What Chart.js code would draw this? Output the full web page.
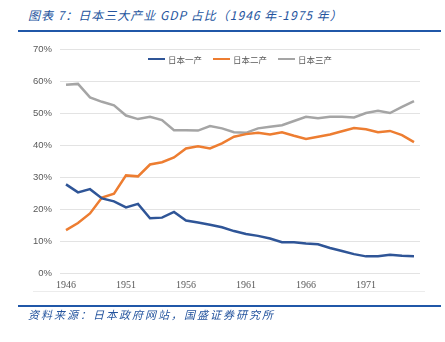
<!DOCTYPE html>
<html lang="zh">
<head>
  <meta charset="UTF-8">
  <title>日本三大产业 GDP 占比</title>
  <script src="https://cdn.jsdelivr.net/npm/chart.js"></script>
  <style>
    body {
      margin: 0;
      padding: 0;
      width: 445px;
      height: 342px;
      position: relative;
      background: #fff;
      overflow: hidden;
      font-family: "Noto Sans CJK SC", sans-serif;
    }
    #title {
      position: absolute;
      left: 28px;
      top: 6px;
      font-size: 12px;
      letter-spacing: 1px;
      font-style: italic;
      color: #24549e;
      white-space: nowrap;
    }
    .rule {
      position: absolute;
      left: 18px;
      width: 423px;
      height: 2px;
      background: #2057a8;
    }
    #source {
      position: absolute;
      left: 28px;
      top: 306px;
      font-size: 11px;
      letter-spacing: 2px;
      font-style: italic;
      color: #24549e;
      white-space: nowrap;
    }
    #legend {
      position: absolute;
      top: 53px;
      left: 148px;
      display: flex;
      font-size: 8.5px;
      color: #595959;
    }
    .item { display: flex; align-items: center; margin-right: 11px; }
    .swatch { width: 17px; height: 2.5px; margin-right: 3px; }
    #frame {
      position: absolute;
      left: 33px;
      width: 392px;
      top: 291px;
      height: 1px;
      background: #ececec;
    }
    canvas { position: absolute; left: 0; top: 0; }
  </style>
</head>
<body>
  <div id="title">图表 7：日本三大产业 GDP 占比（1946 年-1975 年）</div>
  <div class="rule" style="top:30px"></div>
  <canvas id="chart" width="445" height="342"></canvas>
  <div id="legend"></div>
  <div id="frame"></div>
  <div class="rule" style="top:305px"></div>
  <div id="source">资料来源：日本政府网站，国盛证券研究所</div>

  <script>
    // years 1946-1975
    const years = ['1946','1947','1948','1949','1950','1951','1952','1953','1954','1955',
                   '1956','1957','1958','1959','1960','1961','1962','1963','1964','1965',
                   '1966','1967','1968','1969','1970','1971','1972','1973','1974','1975'];
    const seriesNames = ['日本一产', '日本二产', '日本三产'];
    const seriesColors = ['#2f5597', '#ed7d31', '#a5a5a5'];

    // share of GDP, %
    const primary = [27.7, 25.2, 26.2, 23.3, 22.4, 20.5, 21.6, 17.1, 17.3, 19.1,
                     16.4, 15.8, 15.1, 14.3, 13.1, 12.2, 11.6, 10.8, 9.6, 9.6,
                     9.2, 9.0, 7.8, 6.9, 5.9, 5.2, 5.2, 5.7, 5.4, 5.2];
    const secondary = [13.4, 15.6, 18.6, 23.6, 24.8, 30.5, 30.2, 33.9, 34.6, 36.1,
                       38.9, 39.6, 38.9, 40.5, 42.6, 43.4, 43.8, 43.3, 44.0, 42.9,
                       41.9, 42.6, 43.3, 44.3, 45.3, 44.9, 44.0, 44.4, 43.1, 40.9];
    const tertiary = [58.8, 59.1, 54.9, 53.5, 52.4, 49.2, 48.1, 48.8, 47.8, 44.6,
                      44.6, 44.5, 45.9, 45.2, 44.0, 43.8, 45.2, 45.7, 46.2, 47.5,
                      48.8, 48.4, 48.8, 48.8, 48.6, 50.0, 50.7, 50.0, 51.9, 53.7];
    const yTicks = [0, 10, 20, 30, 40, 50, 60, 70];

    const allSeries = [primary, secondary, tertiary];

    // html legend
    const legend = document.getElementById('legend');
    seriesNames.forEach(function(name, i) {
      const item = document.createElement('div');
      item.className = 'item';
      item.innerHTML = '<span class="swatch" style="background:' + seriesColors[i] + '"></span>' + name;
      legend.appendChild(item);
    });

    new Chart(document.getElementById('chart'), {
      type: 'line',
      data: {
        labels: years,
        datasets: allSeries.map(function(values, i) {
          return {
            label: seriesNames[i],
            data: values,
            borderColor: seriesColors[i],
            backgroundColor: seriesColors[i],
            borderWidth: 2.5,
            pointRadius: 0,
            tension: 0
          };
        })
      },
      options: {
        responsive: false,
        animation: false,
        layout: { padding: { left: 0, right: 25, top: 49, bottom: 0 } },
        plugins: { legend: { display: false }, tooltip: { enabled: false } },
        scales: {
          x: {
            offset: true,
            grid: { display: false, drawTicks: false },
            border: { display: false },
            ticks: {
              autoSkip: false,
              maxRotation: 0,
              padding: 6,
              color: '#595959',
              font: { family: 'Liberation Serif', size: 10 },
              callback: function(v, i) { return i % 5 === 0 ? years[i] : ''; }
            },
            afterFit: function(scale) { scale.height = 69; }
          },
          y: {
            min: 0,
            max: 70,
            grid: { color: '#e3e3e3', drawTicks: false },
            border: { display: false },
            afterBuildTicks: function(scale) {
              scale.ticks = yTicks.map(function(v) { return { value: v }; });
            },
            ticks: {
              padding: 8,
              color: '#595959',
              font: { family: 'Liberation Sans', size: 9.5 },
              callback: function(v) { return v + '%'; }
            },
            afterFit: function(scale) { scale.width = 60; }
          }
        }
      }
    });
  </script>
</body>
</html>
